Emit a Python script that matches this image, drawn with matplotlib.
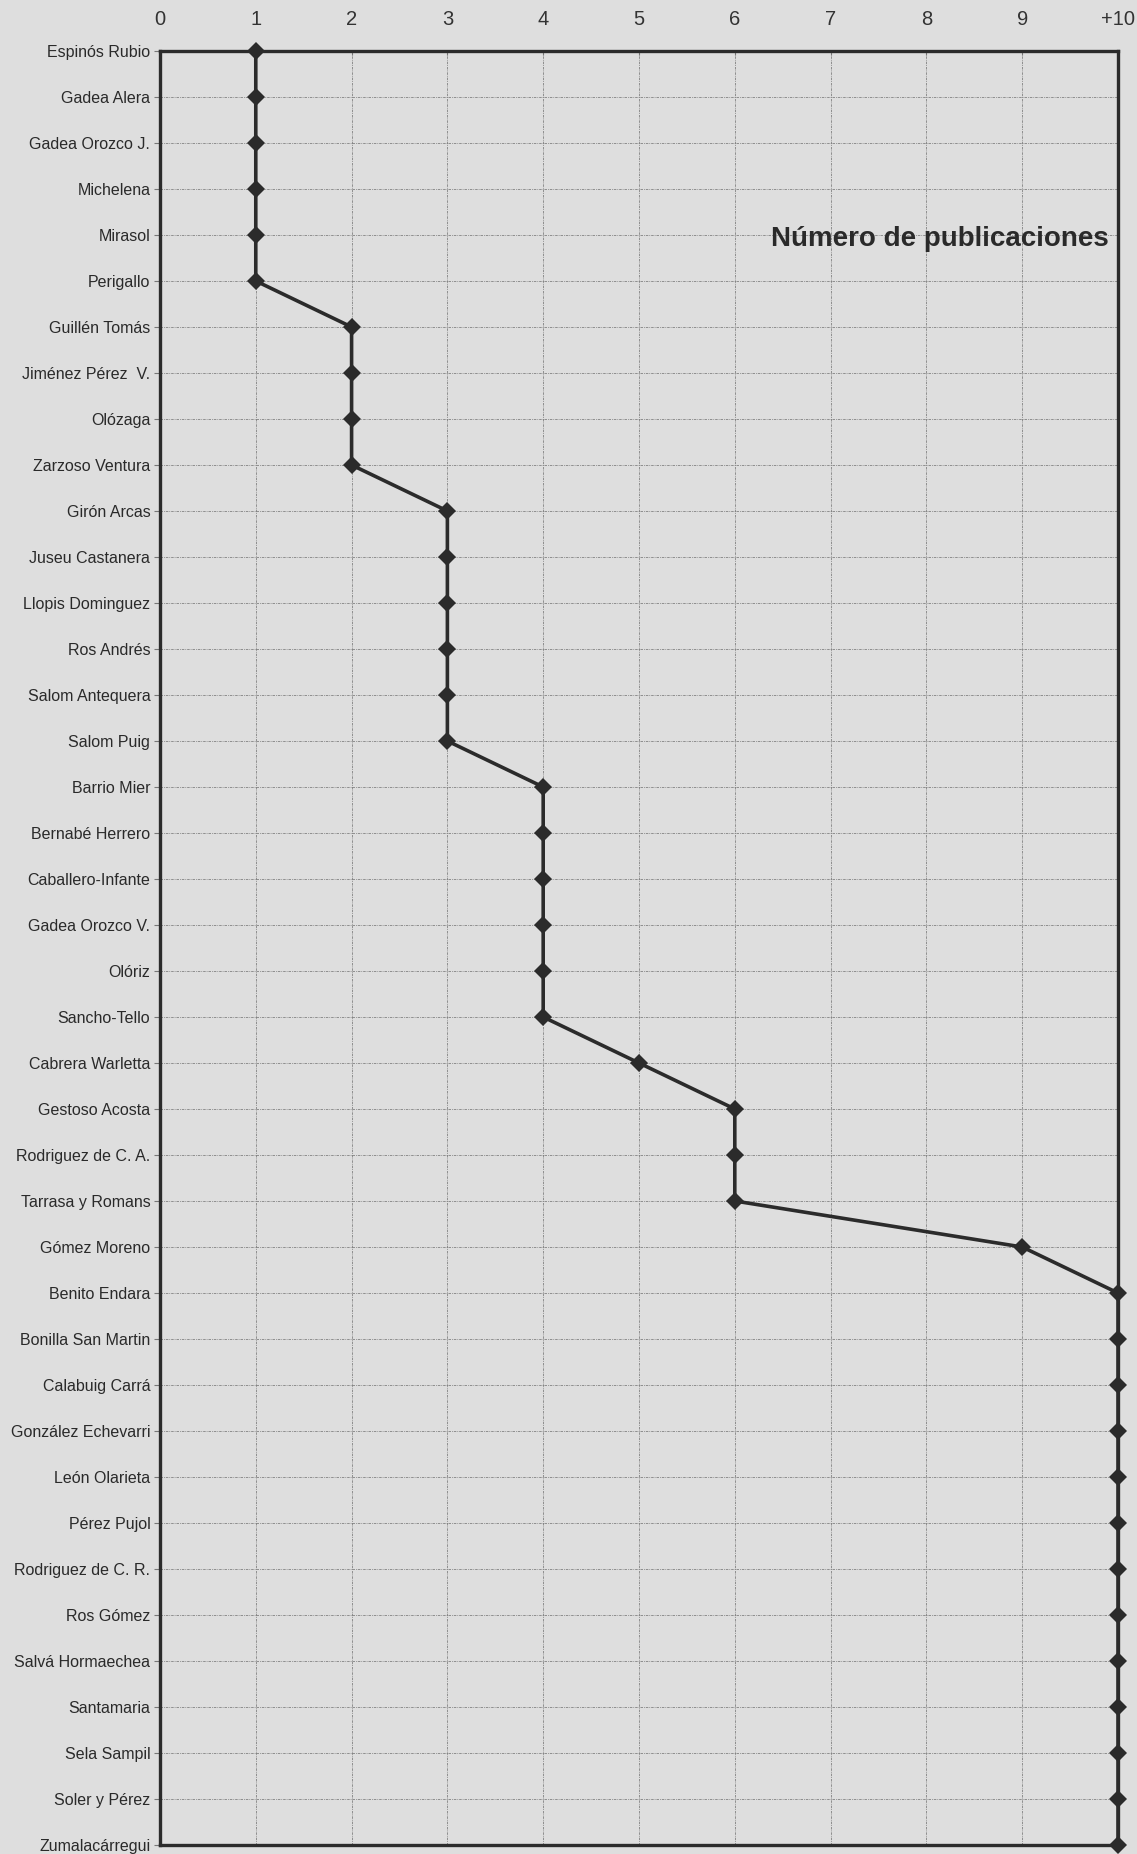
import matplotlib
matplotlib.use("Agg")
import matplotlib.pyplot as plt
from matplotlib.ticker import FixedLocator

plt.rcParams['font.family'] = ['Liberation Sans', 'DejaVu Sans']

authors = [
    "Espinós Rubio", "Gadea Alera", "Gadea Orozco J.", "Michelena", "Mirasol",
    "Perigallo", "Guillén Tomás", "Jiménez Pérez  V.", "Olózaga", "Zarzoso Ventura",
    "Girón Arcas", "Juseu Castanera", "Llopis Dominguez", "Ros Andrés",
    "Salom Antequera", "Salom Puig", "Barrio Mier", "Bernabé Herrero",
    "Caballero-Infante", "Gadea Orozco V.", "Olóriz", "Sancho-Tello",
    "Cabrera Warletta", "Gestoso Acosta", "Rodriguez de C. A.", "Tarrasa y Romans",
    "Gómez Moreno", "Benito Endara", "Bonilla San Martin", "Calabuig Carrá",
    "González Echevarri", "León Olarieta", "Pérez Pujol", "Rodriguez de C. R.",
    "Ros Gómez", "Salvá Hormaechea", "Santamaria", "Sela Sampil",
    "Soler y Pérez", "Zumalacárregui",
]
publications = [1, 1, 1, 1, 1, 1, 2, 2, 2, 2,
                3, 3, 3, 3, 3, 3, 4, 4, 4, 4,
                4, 4, 5, 6, 6, 6, 9, 10, 10, 10,
                10, 10, 10, 10, 10, 10, 10, 10, 10, 10]
x_ticks = [0, 1, 2, 3, 4, 5, 6, 7, 8, 9, 10]
x_ticklabels = ["0", "1", "2", "3", "4", "5", "6", "7", "8", "9", "+10"]
title = "Número de publicaciones"

bg = "#dedede"
ink = "#2b2b2b"

fig = plt.figure(figsize=(11.37, 18.54), dpi=100, facecolor=bg)
ax = fig.add_axes([0.1407, 0.00485, 0.8426, 0.96765])
ax.set_facecolor(bg)

rows = list(range(len(authors)))
ax.plot(publications, rows, color=ink, linewidth=2.6, marker="D",
        markersize=9.5, markeredgewidth=0, markerfacecolor=ink,
        clip_on=False, zorder=5)

ax.set_xlim(0, 10)
ax.set_ylim(len(authors) - 1, 0)

ax.xaxis.tick_top()
ax.xaxis.set_major_locator(FixedLocator(x_ticks))
ax.set_xticklabels(x_ticklabels)
ax.set_yticks(rows)
ax.set_yticklabels(authors)

ax.tick_params(axis="x", which="both", length=3, width=0.8, color="#777777",
               pad=16, labelsize=14.5, labelcolor="#333333", direction="in")
ax.tick_params(axis="y", which="both", length=4, width=0.8, color="#777777",
               pad=3, labelsize=11.5, labelcolor="#2a2a2a")

ax.grid(True, color="#6a6a6a", linestyle=(0, (3, 1.2, 1, 1.2)),
        linewidth=0.6, alpha=0.8)
ax.set_axisbelow(True)

for side in ("top", "bottom", "left", "right"):
    ax.spines[side].set_linewidth(2.4)
    ax.spines[side].set_color(ink)

ax.text(9.9, 4.08, title, ha="right", va="center", fontsize=20,
        fontweight="bold", color="#2a2a2a", zorder=6)

fig.savefig("out.png", dpi=100, facecolor=bg)
